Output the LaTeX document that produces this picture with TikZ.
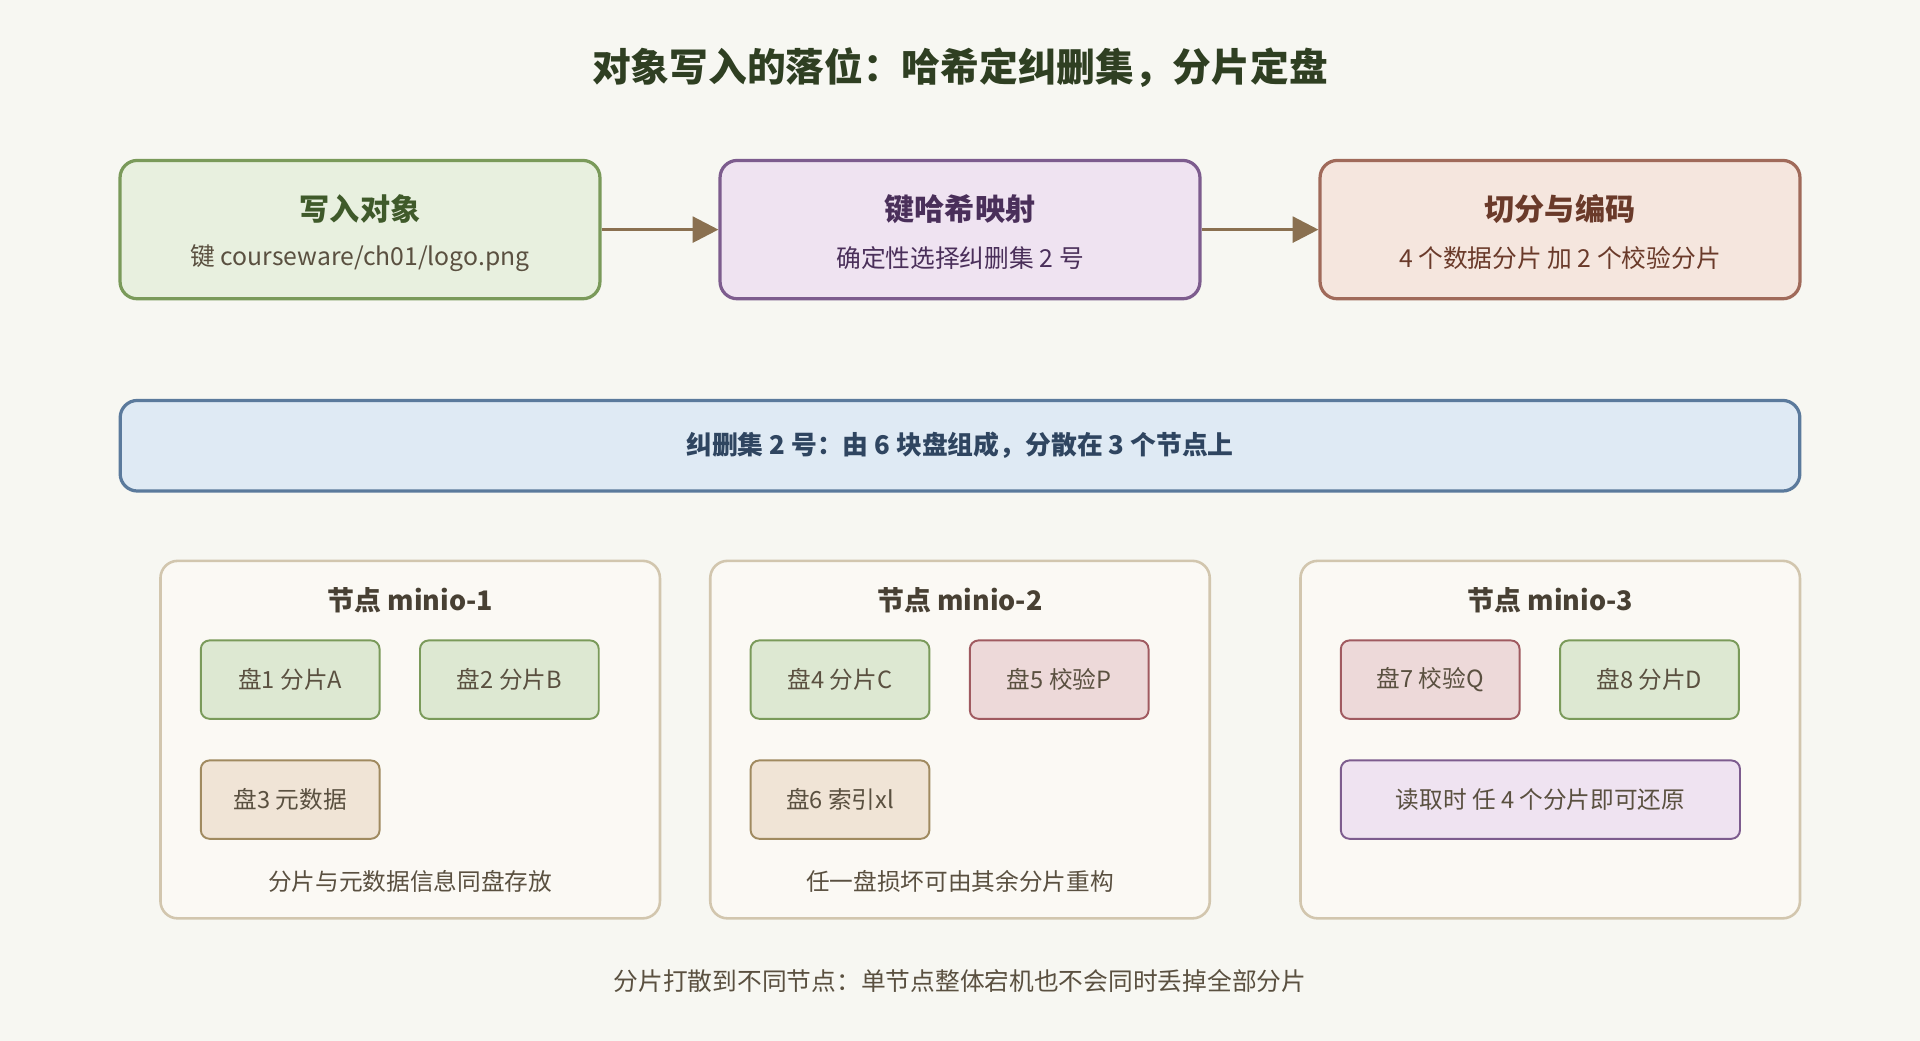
\documentclass[tikz,border=0pt]{standalone}
\usepackage{fontspec}
\setmainfont{Noto Sans CJK SC}
\usetikzlibrary{positioning}
\usetikzlibrary{arrows.meta}
\definecolor{bg}{HTML}{F7F7F2}
\definecolor{gfill}{HTML}{E8F0DF}\definecolor{gline}{HTML}{7A9A5A}\definecolor{gtext}{HTML}{3F5A2A}
\definecolor{pfill}{HTML}{EFE3F1}\definecolor{pline}{HTML}{7D5C8E}\definecolor{ptext}{HTML}{4A2F5A}
\definecolor{rfill}{HTML}{F5E6DE}\definecolor{rline}{HTML}{A06A5A}\definecolor{rtext}{HTML}{6A3A2A}
\definecolor{bfill}{HTML}{DFEAF4}\definecolor{bline}{HTML}{5B7A9C}\definecolor{btext}{HTML}{2F4560}
\definecolor{nfill}{HTML}{FBF9F4}\definecolor{nline}{HTML}{D2C6AE}
\definecolor{dgfill}{HTML}{DDE8D2}\definecolor{drfill}{HTML}{EDD9D9}\definecolor{drline}{HTML}{A05A60}
\definecolor{dtfill}{HTML}{F0E4D6}\definecolor{dtline}{HTML}{A08A60}
\definecolor{body}{HTML}{5A5040}\definecolor{arr}{HTML}{8A7050}
\definecolor{ttext}{HTML}{2F3F22}
\begin{document}
\begin{tikzpicture}[x=0.02cm,y=-0.02cm,
  step/.style={draw=#1line,fill=#1fill,line width=1.5pt,rounded corners=8pt,minimum width=7.84cm,minimum height=2.26cm},
  panel/.style={draw=nline,fill=nfill,line width=1.2pt,rounded corners=8pt,minimum width=8.16cm,minimum height=5.84cm},
  disk/.style={draw=#1,line width=0.9pt,rounded corners=4pt,minimum width=2.92cm,minimum height=1.28cm,font=\fontsize{11}{13}\selectfont,text=body},
  flow/.style={-{Triangle[length=12pt,width=12pt]},draw=arr,line width=1.5pt},
  head/.style={font=\fontsize{14}{16}\bfseries\selectfont},
  sub/.style={font=\fontsize{11.5}{13}\selectfont},
  ptitle/.style={font=\fontsize{12.5}{14}\bfseries\selectfont,text=body!80!black},
  note/.style={font=\fontsize{11}{13}\selectfont,text=body}]
\fill[bg] (0,0) rectangle (1568,850);
\node[font=\fontsize{18}{20}\bfseries\selectfont,text=ttext] (title) at (784,55) {对象写入的落位：哈希定纠删集，分片定盘};

% steps
\node[step=g] (write) at (294,187.5) {};
\node[step=p] (hash) at (784,187.5) {};
\node[step=r] (split) at (1274,187.5) {};
\node[head,text=gtext] at (294,171) {写入对象};
\node[sub,text=body] at (294,211) {键 courseware/ch01/logo.png};
\node[head,text=ptext] at (784,171) {键哈希映射};
\node[sub,text=ptext] at (784,211) {确定性选择纠删集 2 号};
\node[head,text=rtext] at (1274,171) {切分与编码};
\node[sub,text=rtext] at (1274,211) {4 个数据分片 加 2 个校验分片};
\draw[flow] (write) -- (hash);
\draw[flow] (hash) -- (split);

% erasure set
\node[draw=bline,fill=bfill,line width=1.5pt,rounded corners=8pt,minimum width=27.44cm,minimum height=1.48cm,
  font=\fontsize{12}{14}\bfseries\selectfont,text=btext] (set) at (784,364) {纠删集 2 号：由 6 块盘组成，分散在 3 个节点上};

% nodes
\node[panel] (n1) at (335,604) {};
\node[panel] (n2) at (784,604) {};
\node[panel] (n3) at (1266,604) {};
\node[ptitle] at (335,490) {节点 minio-1};
\node[ptitle] at (784,490) {节点 minio-2};
\node[ptitle] at (1266,490) {节点 minio-3};

\node[disk=gline,fill=dgfill] (d1) at (237,555) {盘1 分片A};
\node[disk=gline,fill=dgfill] (d2) at (416,555) {盘2 分片B};
\node[disk=dtline,fill=dtfill] (d3) at (237,653) {盘3 元数据};
\node[disk=gline,fill=dgfill] (d4) at (686,555) {盘4 分片C};
\node[disk=drline,fill=drfill] (d5) at (865,555) {盘5 校验P};
\node[disk=dtline,fill=dtfill] (d6) at (686,653) {盘6 索引xl};
\node[disk=drline,fill=drfill] (d7) at (1168,555) {盘7 校验Q};
\node[disk=gline,fill=dgfill] (d8) at (1347,555) {盘8 分片D};
\node[disk=pline,fill=pfill,minimum width=6.52cm] (read) at (1258,653) {读取时 任 4 个分片即可还原};

\node[note] at (335,720) {分片与元数据信息同盘存放};
\node[note] at (784,720) {任一盘损坏可由其余分片重构};
\node[sub,text=body] (foot) at (784,801) {分片打散到不同节点：单节点整体宕机也不会同时丢掉全部分片};
\end{tikzpicture}
\end{document}
